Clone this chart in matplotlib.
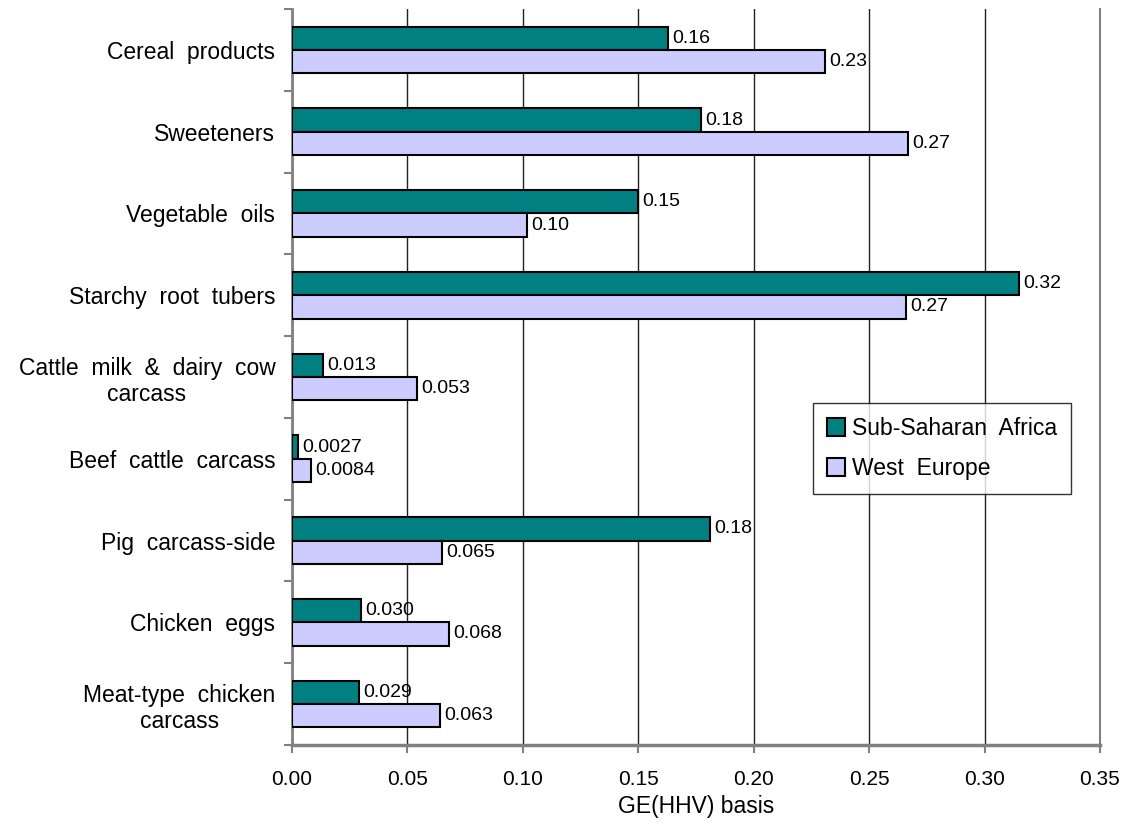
import matplotlib
matplotlib.use("Agg")
import matplotlib.pyplot as plt
import numpy as np

plt.rcParams['font.family'] = ['Liberation Sans', 'DejaVu Sans']

# data
categories = ["Cereal  products", "Sweeteners", "Vegetable  oils", "Starchy  root  tubers",
              "Cattle  milk  &  dairy  cow\ncarcass", "Beef  cattle  carcass",
              "Pig  carcass-side", "Chicken  eggs", "Meat-type  chicken\ncarcass"]
africa = [0.163, 0.177, 0.150, 0.315, 0.0135, 0.0027, 0.181, 0.030, 0.029]
europe = [0.231, 0.267, 0.102, 0.266, 0.054, 0.0084, 0.065, 0.068, 0.064]
africa_lbl = ["0.16", "0.18", "0.15", "0.32", "0.013", "0.0027", "0.18", "0.030", "0.029"]
europe_lbl = ["0.23", "0.27", "0.10", "0.27", "0.053", "0.0084", "0.065", "0.068", "0.063"]
xticks = [0.0, 0.05, 0.10, 0.15, 0.20, 0.25, 0.30, 0.35]

teal = "#008080"
lav = "#CCCCFF"

fig = plt.figure(figsize=(11.28, 8.25), dpi=100)
ax = fig.add_axes([292/1128, 1-745/825, 808/1128, 736/825])

y = np.arange(len(categories))
h = 0.285
ax.barh(y - h/2, africa, height=h, color=teal, edgecolor="black", linewidth=1.5,
        label="Sub-Saharan  Africa", zorder=3)
ax.barh(y + h/2, europe, height=h, color=lav, edgecolor="black", linewidth=1.5,
        label="West  Europe", zorder=3)

for i in range(len(categories)):
    ax.annotate(africa_lbl[i], (africa[i], y[i] - h/2), xytext=(3, 0), textcoords="offset points",
                va="center", ha="left", fontsize=14, zorder=4)
    ax.annotate(europe_lbl[i], (europe[i], y[i] + h/2), xytext=(3, 0), textcoords="offset points",
                va="center", ha="left", fontsize=14, zorder=4)

ax.set_xlim(0, 0.35)
ax.set_ylim(len(categories) - 0.5, -0.5)
ax.set_xticks(xticks)
ax.set_xticklabels(["%.2f" % t for t in xticks], fontsize=15)
ax.set_xlabel("GE(HHV) basis", fontsize=16.5, labelpad=4)

# category boundaries carry the tick marks, centres carry the labels
ax.set_yticks(np.arange(len(categories) + 1) - 0.5)
ax.set_yticklabels([])
ax.set_yticks(y, minor=True)
ax.set_yticklabels(categories, minor=True, fontsize=16.5, multialignment="center")
ax.tick_params(axis="y", which="minor", length=0, pad=12)
ax.tick_params(axis="y", which="major", length=6, color="#808080", width=1.5)
ax.tick_params(axis="x", length=6, color="#808080", width=1.5, pad=12)

ax.xaxis.grid(True, color="#222222", linewidth=1)
ax.set_axisbelow(True)
ax.spines["top"].set_visible(False)
ax.spines["left"].set_color("#808080")
ax.spines["left"].set_linewidth(2)
ax.spines["bottom"].set_color("#808080")
ax.spines["bottom"].set_linewidth(2.5)
ax.spines["right"].set_color("#808080")
ax.spines["right"].set_linewidth(1.5)

leg = ax.legend(loc="upper left", bbox_to_anchor=(0.645, 0.4647), fontsize=16.5, frameon=True,
                fancybox=False, edgecolor="black", handlelength=0.8, handleheight=0.8,
                handletextpad=0.3, borderpad=0.6, labelspacing=0.75, borderaxespad=0)
leg.get_frame().set_linewidth(1)

fig.savefig("out.png", dpi=100)
